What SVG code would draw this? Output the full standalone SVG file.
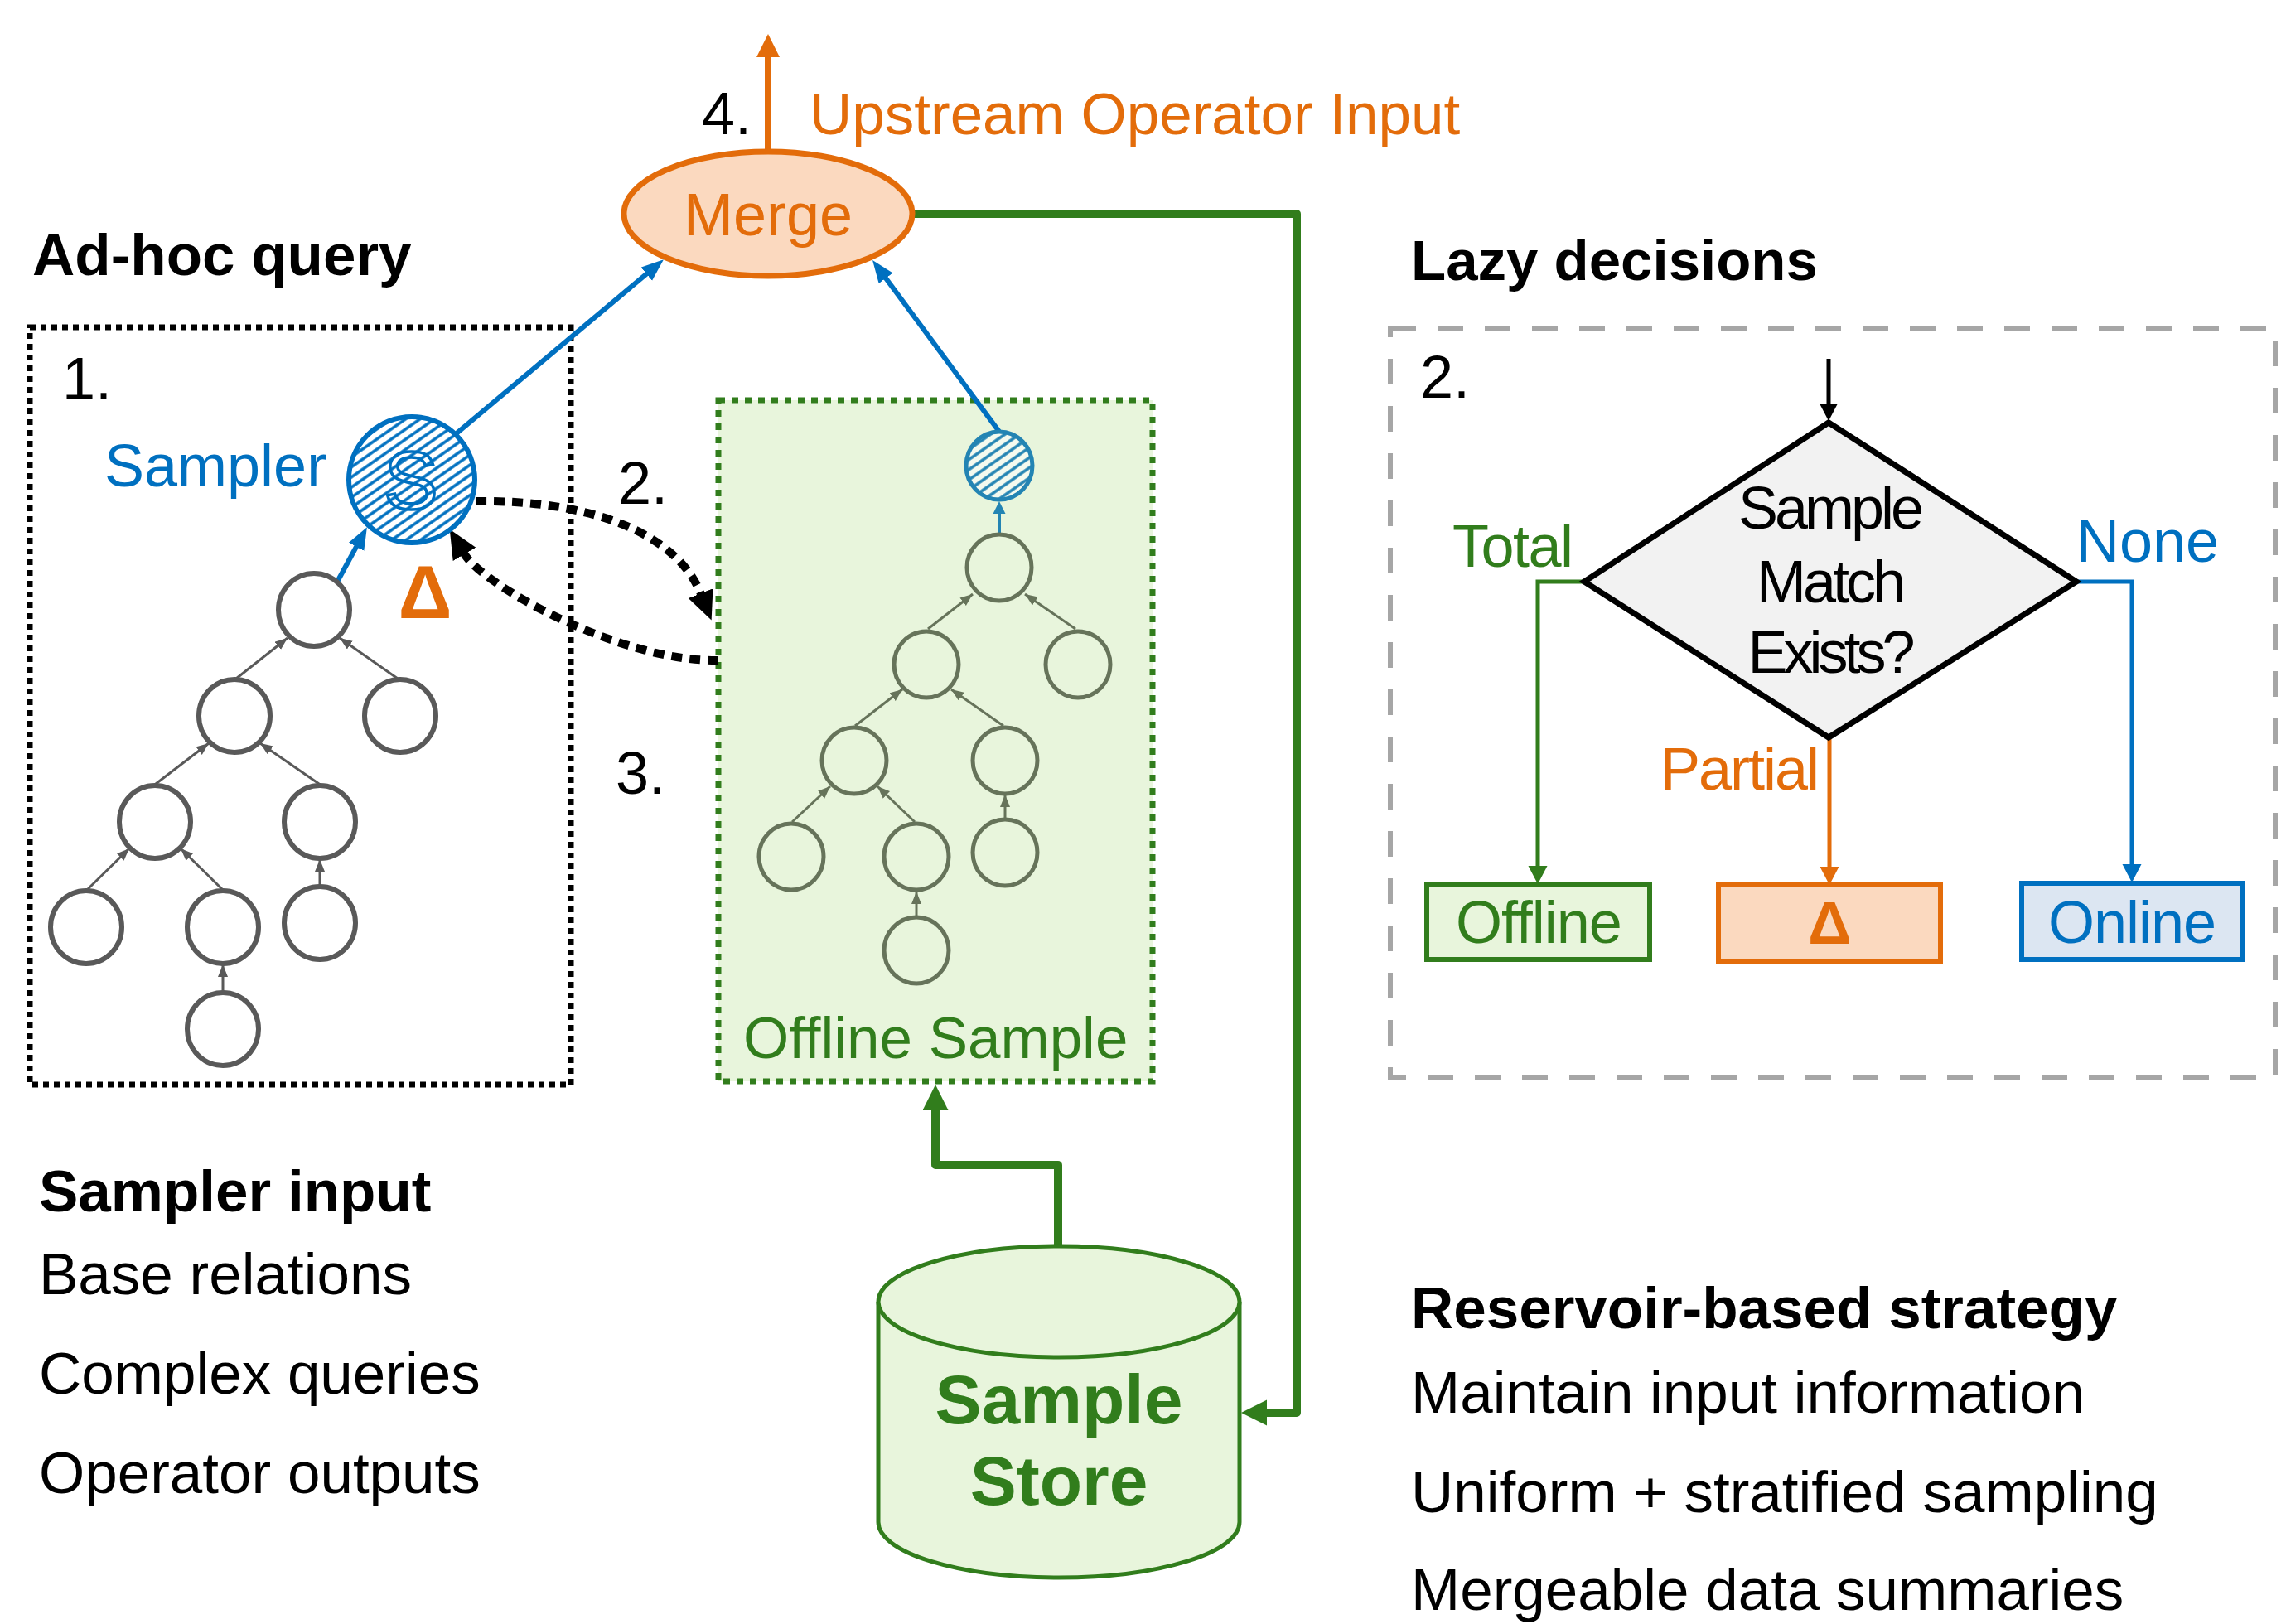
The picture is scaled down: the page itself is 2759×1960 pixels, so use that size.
<svg xmlns="http://www.w3.org/2000/svg" width="2759" height="1960" viewBox="0 0 2759 1960">
<defs>
<style>
text{font-family:"Liberation Sans",Arial,sans-serif;}
.t72{font-size:72px;}
.t70{font-size:71px;}
.b70{font-size:71px;font-weight:bold;}
.blk{fill:#000;}
.org{fill:#E36C0A;}
.blu{fill:#0070C0;}
.grn{fill:#317D1C;}
.node{fill:#fff;stroke:#595959;stroke-width:6;}
.gnode{fill:none;stroke:#66735A;stroke-width:5;}
.edge{fill:none;stroke:#595959;stroke-width:3;marker-end:url(#aGray);}
.gedge{fill:none;stroke:#66735A;stroke-width:3;marker-end:url(#aGTree);}
.dotc{fill:none;stroke:#000;stroke-width:10;stroke-dasharray:13 9;marker-end:url(#aBlackBig);}
.mid{text-anchor:middle;}
</style>
<pattern id="hatchB" width="10" height="10" patternUnits="userSpaceOnUse" patternTransform="rotate(-35)">
<rect width="10" height="10" fill="#fff"/>
<line x1="0" y1="5" x2="10" y2="5" stroke="#0070C0" stroke-width="3.5"/>
</pattern>
<pattern id="hatchT" width="10" height="10" patternUnits="userSpaceOnUse" patternTransform="rotate(-35)">
<rect width="10" height="10" fill="#F4FAEF"/>
<line x1="0" y1="5" x2="10" y2="5" stroke="#2384B3" stroke-width="3.5"/>
</pattern>
<marker id="aGray" markerUnits="userSpaceOnUse" markerWidth="16" markerHeight="13" refX="15" refY="6" orient="auto"><path d="M0,0 L15,6 L0,12 z" fill="#595959"/></marker>
<marker id="aGTree" markerUnits="userSpaceOnUse" markerWidth="16" markerHeight="13" refX="15" refY="6" orient="auto"><path d="M0,0 L15,6 L0,12 z" fill="#66735A"/></marker>
<marker id="aBlue" markerUnits="userSpaceOnUse" markerWidth="28" markerHeight="22" refX="1" refY="10.5" orient="auto"><path d="M0,0 L27,10.5 L0,21 z" fill="#0070C0"/></marker>
<marker id="aTeal" markerUnits="userSpaceOnUse" markerWidth="16" markerHeight="16" refX="1" refY="7.5" orient="auto"><path d="M0,0 L15,7.5 L0,15 z" fill="#2384B3"/></marker>
<marker id="aOrgBig" markerUnits="userSpaceOnUse" markerWidth="30" markerHeight="30" refX="1" refY="14" orient="auto"><path d="M0,0 L28,14 L0,28 z" fill="#E36C0A"/></marker>
<marker id="aGrnBig" markerUnits="userSpaceOnUse" markerWidth="33" markerHeight="33" refX="1" refY="15.5" orient="auto"><path d="M0,0 L31,15.5 L0,31 z" fill="#317D1C"/></marker>
<marker id="aBlackBig" markerUnits="userSpaceOnUse" markerWidth="37" markerHeight="34" refX="1" refY="16" orient="auto"><path d="M0,0 L35,16 L0,32 z" fill="#000"/></marker>
<marker id="aBlk" markerUnits="userSpaceOnUse" markerWidth="24" markerHeight="24" refX="1" refY="11" orient="auto"><path d="M0,0 L21,11 L0,22 z" fill="#000"/></marker>
<marker id="aGrn" markerUnits="userSpaceOnUse" markerWidth="24" markerHeight="24" refX="1" refY="11.5" orient="auto"><path d="M0,0 L22,11.5 L0,23 z" fill="#317D1C"/></marker>
<marker id="aOrg" markerUnits="userSpaceOnUse" markerWidth="24" markerHeight="24" refX="1" refY="11.5" orient="auto"><path d="M0,0 L22,11.5 L0,23 z" fill="#E36C0A"/></marker>
<marker id="aBlu" markerUnits="userSpaceOnUse" markerWidth="24" markerHeight="24" refX="1" refY="11.5" orient="auto"><path d="M0,0 L22,11.5 L0,23 z" fill="#0070C0"/></marker>
</defs>
<rect width="2759" height="1960" fill="#fff"/>

<!-- containers -->
<g id="adhoc-box">
<rect x="36" y="395" width="653" height="914" fill="none" stroke="#000" stroke-width="7" stroke-dasharray="7 6"/>
</g>
<g id="offline-sample-box">
<rect x="867" y="483" width="524" height="822" fill="#E8F5DC" stroke="#317D1C" stroke-width="7" stroke-dasharray="8 8"/>
<text class="t70 grn" x="897" y="1277">Offline Sample</text>
</g>
<g id="lazy-box">
<rect x="1678" y="396" width="1068" height="904" fill="none" stroke="#A6A6A6" stroke-width="6" stroke-dasharray="31 26"/>
</g>

<!-- labels -->
<g id="labels">
<text class="b70 blk" x="39" y="332">Ad-hoc query</text>
<text class="b70 blk" x="1703" y="338" style="font-size:69px">Lazy decisions</text>
<text class="t72 blk" x="847" y="162">4.</text>
<text class="t72 org" x="977" y="162" style="font-size:71px">Upstream Operator Input</text>
<text class="t72 blk" x="75" y="482">1.</text>
<text class="t72 blu" x="126" y="587">Sampler</text>
<text class="t72 blk" x="746" y="608">2.</text>
<text class="t72 blk" x="743" y="958">3.</text>
<text class="org mid" x="513" y="746" style="font-size:90px;font-weight:bold">Δ</text>
<text class="t72 blk" x="1714" y="480">2.</text>
<text class="t72 grn" x="1753" y="684" letter-spacing="-1.5">Total</text>
<text class="t72 blu" x="2506" y="678">None</text>
<text class="t72 org" x="2004" y="953" letter-spacing="-2">Partial</text>
</g>
<g id="sampler-input">
<text class="b70 blk" x="47" y="1462">Sampler input</text>
<text class="t70 blk" x="47" y="1562">Base relations</text>
<text class="t70 blk" x="47" y="1682">Complex queries</text>
<text class="t70 blk" x="47" y="1802">Operator outputs</text>
</g>
<g id="reservoir-strategy">
<text class="b70 blk" x="1703" y="1603">Reservoir-based strategy</text>
<text class="t70 blk" x="1703" y="1705">Maintain input information</text>
<text class="t70 blk" x="1703" y="1825">Uniform + stratified sampling</text>
<text class="t70 blk" x="1703" y="1943">Mergeable data summaries</text>
</g>

<!-- connectors -->
<g id="connectors">
<path d="M927,183 V68" fill="none" stroke="#E36C0A" stroke-width="8" marker-end="url(#aOrgBig)"/>
<path d="M551,523 L781,330" fill="none" stroke="#0070C0" stroke-width="6" marker-end="url(#aBlue)"/>
<path d="M1206,521 L1068.5,335" fill="none" stroke="#0070C0" stroke-width="6" marker-end="url(#aBlue)"/>
<path d="M406,704 L430.5,659" fill="none" stroke="#0070C0" stroke-width="6" marker-end="url(#aBlue)"/>
<path d="M1206,645 V619" fill="none" stroke="#2384B3" stroke-width="4" marker-end="url(#aTeal)"/>
<path d="M1102,258 H1565 V1705 H1528" fill="none" stroke="#317D1C" stroke-width="10" stroke-linejoin="round" marker-end="url(#aGrnBig)"/>
<path d="M1277,1504 V1406 H1129 V1339" fill="none" stroke="#317D1C" stroke-width="10" stroke-linejoin="round" marker-end="url(#aGrnBig)"/>
<path class="dotc" d="M574,605 C710,603 816,642 846,717"/>
<path class="dotc" d="M867,797 C750,799 583,707 560,668"/>
<!-- left tree edges -->
<path class="edge" d="M285,819 L347,770"/>
<path class="edge" d="M480,819 L410,770"/>
<path class="edge" d="M188,946 L252,897"/>
<path class="edge" d="M385,946 L314,897"/>
<path class="edge" d="M106,1073 L156,1024"/>
<path class="edge" d="M268,1073 L218,1024"/>
<path class="edge" d="M386,1068 L386,1037"/>
<path class="edge" d="M269,1196 L269,1164"/>
<!-- offline tree edges -->
<path class="gedge" d="M1120,759 L1174,717"/>
<path class="gedge" d="M1298,759 L1237,717"/>
<path class="gedge" d="M1032,876 L1089,832"/>
<path class="gedge" d="M1211,876 L1148,832"/>
<path class="gedge" d="M956,992 L1002,949"/>
<path class="gedge" d="M1104,992 L1059,949"/>
<path class="gedge" d="M1213,988 L1213,959"/>
<path class="gedge" d="M1106,1105 L1106,1076"/>
<!-- lazy decision flow -->
<path d="M2207,433 V488" fill="none" stroke="#000" stroke-width="5" marker-end="url(#aBlk)"/>
<path d="M1912,702 H1856 V1046" fill="none" stroke="#317D1C" stroke-width="5" marker-end="url(#aGrn)"/>
<path d="M2208,890 V1047" fill="none" stroke="#E36C0A" stroke-width="5" marker-end="url(#aOrg)"/>
<path d="M2506,702 H2573 V1044" fill="none" stroke="#0070C0" stroke-width="5" marker-end="url(#aBlu)"/>
</g>

<!-- nodes -->
<g id="merge">
<ellipse cx="927" cy="258" rx="174" ry="75" fill="#FBD9BF" stroke="#E36C0A" stroke-width="7"/>
<text class="t72 org mid" x="927" y="284">Merge</text>
</g>
<g id="sampler">
<circle cx="497" cy="579" r="76" fill="url(#hatchB)" stroke="#0070C0" stroke-width="6"/>
<text class="mid" x="496" y="614" style="font-size:98px" fill="none" stroke="#0070C0" stroke-width="3.5">S</text>
</g>
<g id="tree-left">
<ellipse class="node" cx="379" cy="736" rx="43" ry="44"/>
<ellipse class="node" cx="283" cy="864" rx="43" ry="44"/>
<ellipse class="node" cx="483" cy="864" rx="43" ry="44"/>
<ellipse class="node" cx="187" cy="992" rx="43" ry="44"/>
<ellipse class="node" cx="386" cy="992" rx="43" ry="44"/>
<ellipse class="node" cx="104" cy="1119" rx="43" ry="44"/>
<ellipse class="node" cx="269" cy="1119" rx="43" ry="44"/>
<ellipse class="node" cx="386" cy="1114" rx="43" ry="44"/>
<ellipse class="node" cx="269" cy="1242" rx="43" ry="44"/>
</g>
<g id="offline-sampler">
<ellipse cx="1206" cy="562" rx="40" ry="41" fill="url(#hatchT)" stroke="#2384B3" stroke-width="5"/>
</g>
<g id="tree-offline">
<ellipse class="gnode" cx="1206" cy="685" rx="39" ry="40"/>
<ellipse class="gnode" cx="1118" cy="802" rx="39" ry="40"/>
<ellipse class="gnode" cx="1301" cy="802" rx="39" ry="40"/>
<ellipse class="gnode" cx="1031" cy="918" rx="39" ry="40"/>
<ellipse class="gnode" cx="1213" cy="918" rx="39" ry="40"/>
<ellipse class="gnode" cx="955" cy="1034" rx="39" ry="40"/>
<ellipse class="gnode" cx="1106" cy="1034" rx="39" ry="40"/>
<ellipse class="gnode" cx="1213" cy="1029" rx="39" ry="40"/>
<ellipse class="gnode" cx="1106" cy="1147" rx="39" ry="40"/>
</g>
<g id="sample-store">
<path d="M1060,1571 V1837 A218,67 0 0 0 1496,1837 V1571" fill="#E8F5DC" stroke="#317D1C" stroke-width="5"/>
<ellipse cx="1278" cy="1571" rx="218" ry="67" fill="#E8F5DC" stroke="#317D1C" stroke-width="5"/>
<text class="grn mid" x="1278" y="1718" style="font-size:84px;font-weight:bold">Sample</text>
<text class="grn mid" x="1278" y="1816" style="font-size:84px;font-weight:bold">Store</text>
</g>
<g id="decision">
<polygon points="2207,510 2506,702 2207,890 1912,702" fill="#F2F2F2" stroke="#000" stroke-width="7" stroke-linejoin="miter"/>
<text class="t72 blk mid" x="2208" y="638" letter-spacing="-4">Sample</text>
<text class="t72 blk mid" x="2208" y="727" letter-spacing="-4">Match</text>
<text class="t72 blk mid" x="2208" y="812" letter-spacing="-5">Exists?</text>
</g>
<g id="offline">
<rect x="1722" y="1067" width="269" height="91" fill="#E8F5DC" stroke="#317D1C" stroke-width="6"/>
<text class="t72 grn mid" x="1857" y="1138" letter-spacing="-1">Offline</text>
</g>
<g id="delta">
<rect x="2074" y="1068" width="268" height="92" fill="#FBD9BF" stroke="#E36C0A" stroke-width="6"/>
<text class="org mid" x="2208" y="1139" style="font-size:72px;font-weight:bold">Δ</text>
</g>
<g id="online">
<rect x="2440" y="1066" width="267" height="92" fill="#DCE6F2" stroke="#0070C0" stroke-width="6"/>
<text class="t72 blu mid" x="2573" y="1138" letter-spacing="-1">Online</text>
</g>
</svg>
